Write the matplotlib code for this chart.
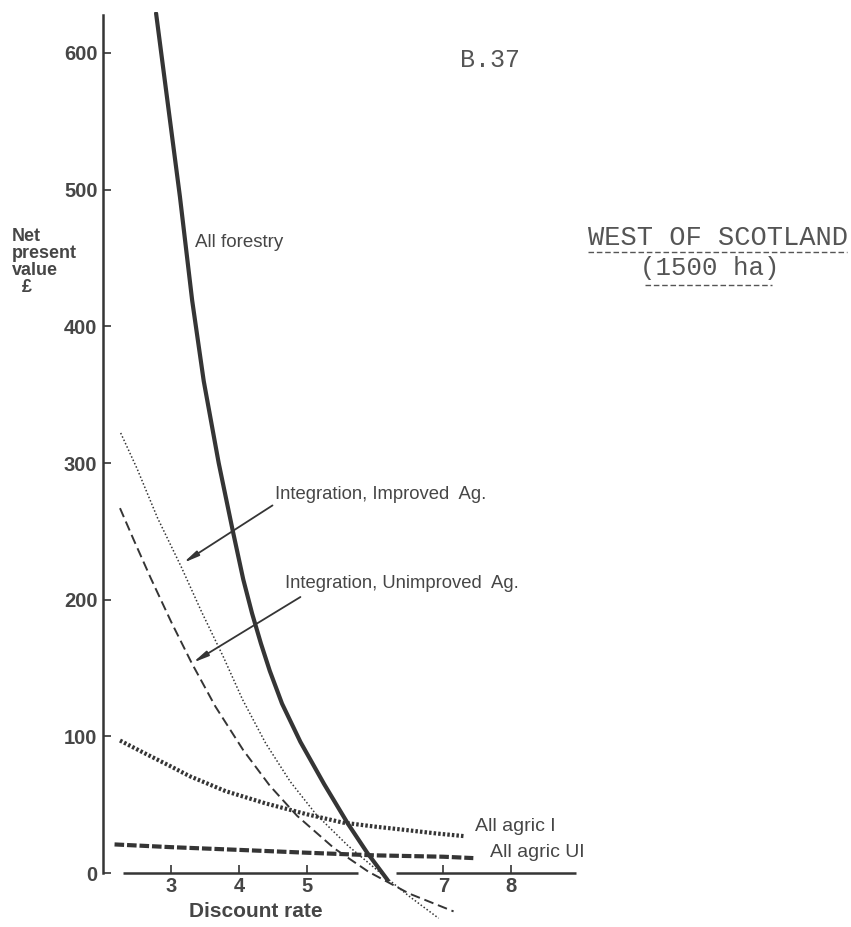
import matplotlib
matplotlib.use("Agg")
import matplotlib.pyplot as plt
from matplotlib.lines import Line2D

plt.rcParams['font.family'] = ['Liberation Sans', 'DejaVu Sans']

INK = '#353535'
TXT = '#464646'

# values (discount rate %, NPV in pounds)
forestry_x = [2.78, 2.96, 3.13, 3.31, 3.48, 3.70, 3.90, 4.06, 4.19, 4.32, 4.45, 4.63, 4.90, 5.25, 5.60, 5.88, 6.18]
forestry_y = [629, 560, 495, 419, 360, 300, 252, 215, 190, 168, 148, 124, 96, 65, 36, 15, -5]

improved_x = [2.26, 2.5, 2.8, 3.15, 3.45, 3.77, 4.05, 4.39, 4.75, 5.13, 5.6, 6.08, 6.5, 6.93]
improved_y = [322, 296, 260, 224, 191, 158, 127, 95, 67, 43, 20, 0, -17, -33]

unimproved_x = [2.25, 2.45, 2.7, 3.0, 3.3, 3.65, 4.06, 4.45, 4.85, 5.4, 5.9, 6.5, 7.15]
unimproved_y = [267, 244, 216, 184, 154, 122, 90, 64, 42, 18, 1, -15, -28]

agric_i_x = [2.25, 2.6, 3.0, 3.27, 3.8, 4.39, 5.0, 5.52, 6.0, 6.37, 6.9, 7.32]
agric_i_y = [97, 88, 78, 71, 60, 51, 43, 37, 34, 32, 29, 27]

agric_ui_x = [2.17, 3.0, 4.0, 4.96, 6.0, 7.0, 7.44]
agric_ui_y = [21, 19, 17, 15, 13, 12, 11]

x_ticks = [3, 4, 5, 7, 8]
y_ticks = [0, 100, 200, 300, 400, 500, 600]

# the drawn x axis has a break where the curves cross it
axis_starts = [2.3, 6.3]
axis_ends = [5.75, 8.95]

fig = plt.figure(figsize=(8.51, 9.27), dpi=100)
ax = fig.add_axes([0.121, 0.0065, 0.576, 0.9806])
ax.set_xlim(2, 9.2)
ax.set_ylim(-35, 630)

ax.plot(forestry_x, forestry_y, color=INK, lw=3.0, solid_capstyle='round')
ax.plot(improved_x, improved_y, color=INK, lw=1.1, dashes=(1, 1.4))
ax.plot(unimproved_x, unimproved_y, color=INK, lw=1.4, dashes=(5, 2.5))
ax.plot(agric_i_x, agric_i_y, color=INK, lw=3.0, dashes=(0.6, 0.5))
ax.plot(agric_ui_x, agric_ui_y, color=INK, lw=3.0, dashes=(2.3, 0.7))

# axes styled like the hand drawn original
for s in ['top', 'right']:
    ax.spines[s].set_visible(False)
ax.spines['bottom'].set_position(('data', 0))
ax.spines['bottom'].set_visible(False)
ax.hlines([0] * len(axis_starts), axis_starts, axis_ends, color=INK, lw=1.8)
ax.spines['left'].set_bounds(0, 628)
ax.spines['left'].set_color(INK)
ax.spines['left'].set_linewidth(1.8)

ax.set_xticks(x_ticks)
ax.set_yticks(y_ticks)
ax.tick_params(direction='in', length=6, width=1.2, color=INK, labelcolor=TXT,
               labelsize=14.5)
ax.tick_params(axis='x', pad=3)
ax.tick_params(axis='y', pad=4)
for lab in ax.get_xticklabels() + ax.get_yticklabels():
    lab.set_fontweight('bold')

ax.text(4.25, -28, 'Discount rate', ha='center', va='center', fontsize=15,
        fontweight='bold', color=TXT)
fig.text(12 / 851, 1 - 262 / 927, 'Net\npresent\nvalue\n  £', ha='left', va='center',
         fontsize=13, fontweight='bold', color=TXT, linespacing=1.0)

# curve labels
ax.text(3.35, 461, 'All forestry', fontsize=13.5, color=TXT, va='center')
ax.text(7.47, 34, 'All agric I', fontsize=14, color=TXT, va='center')
ax.text(7.69, 15, 'All agric UI', fontsize=14, color=TXT, va='center')

arrow = dict(arrowstyle='-|>,head_length=0.9,head_width=0.16', color=INK, lw=1.3,
             shrinkA=0, shrinkB=0)
ax.annotate('', xy=(3.18, 227), xytext=(4.49, 269), arrowprops=arrow)
ax.text(4.53, 277, 'Integration, Improved  Ag.', fontsize=13.3, color=TXT, va='center')
ax.annotate('', xy=(3.32, 154), xytext=(4.9, 202), arrowprops=arrow)
ax.text(4.68, 212, 'Integration, Unimproved  Ag.', fontsize=13.3, color=TXT, va='center')

# typed annotations in the page corner
mono = ['Liberation Mono', 'DejaVu Sans Mono']
fig.text(460 / 851, 1 - 60 / 927, 'B.37', family=mono, fontsize=18, color='#555555',
         va='center')
fig.text(588 / 851, 1 - 238 / 927, 'WEST OF SCOTLAND', family=mono, fontsize=19.5,
         color='#555555', va='center')
fig.text(710 / 851, 1 - 268 / 927, '(1500 ha)', family=mono, fontsize=18.5,
         color='#555555', va='center', ha='center')
fig.add_artist(Line2D([588 / 851, 847 / 851], [1 - 252 / 927] * 2, transform=fig.transFigure,
                      color='#555555', lw=1.0, dashes=(4, 2)))
fig.add_artist(Line2D([645 / 851, 772 / 851], [1 - 285 / 927] * 2, transform=fig.transFigure,
                      color='#555555', lw=1.0, dashes=(4, 2)))

fig.savefig('out.png', dpi=100, facecolor='white')
